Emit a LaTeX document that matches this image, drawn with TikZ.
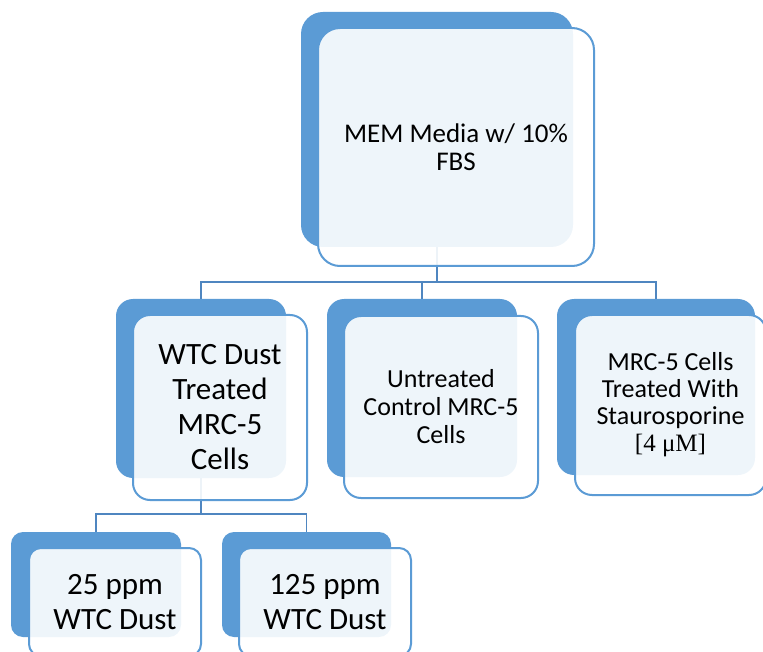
\documentclass[tikz,border=0pt]{standalone}
\usepackage{fontspec}
\setmainfont{Carlito}
\newfontfamily\serifm{Liberation Serif}
\usetikzlibrary{calc}
\definecolor{accent}{HTML}{5B9BD5}
\definecolor{conn}{HTML}{4F86C0}
\tikzset{
  backbox/.style={fill=accent, inner sep=0pt, draw=none},
  frontbox/.style={draw=accent, line width=2pt, fill=white, fill opacity=0.9, text opacity=1, inner sep=0pt, align=center, text=black},
  link/.style={draw=conn, line width=1.8pt},
}
\begin{document}
\begin{tikzpicture}[x=1pt,y=-1pt]
\useasboundingbox (0,0) rectangle (763,652);
\clip (0,0) rectangle (763,652);
% back boxes
\node[backbox, rounded corners=22pt, minimum width=272pt, minimum height=235pt] (topB) at (437,129.5) {};
\node[backbox, rounded corners=17pt, minimum width=170pt, minimum height=179pt] (wtcB) at (201,388.5) {};
\node[backbox, rounded corners=17pt, minimum width=190pt, minimum height=178pt] (untB) at (422,388) {};
\node[backbox, rounded corners=17pt, minimum width=198pt, minimum height=176pt] (stauB) at (656,387) {};
\node[backbox, rounded corners=12pt, minimum width=170pt, minimum height=105pt] (p25B) at (96,584.5) {};
\node[backbox, rounded corners=12pt, minimum width=169pt, minimum height=105pt] (p125B) at (306.5,584.5) {};
% connectors
\coordinate (j1) at ($(topB.south)+(0,35)$);
\coordinate (j2) at ($(wtcB.south)+(0,36)$);
\draw[link] (topB.south) -- (j1);
\draw[link] (wtcB.north) |- (j1) -| (stauB.north);
\draw[link] (j1) -| (untB.north);
\draw[link] (wtcB.south) -- (j2);
\draw[link] (p25B.north) |- (j2) -| (p125B.north);
% front boxes
\node[frontbox, rounded corners=22pt, minimum width=276pt, minimum height=238pt, font=\fontsize{27}{28.5}\selectfont] (top) at (456,147) {MEM Media w/ 10\%\\FBS};
\node[frontbox, rounded corners=17pt, minimum width=174pt, minimum height=185pt, font=\fontsize{31}{35}\selectfont] (wtc) at (220,407.5) {WTC Dust\\Treated\\MRC-5\\Cells};
\node[frontbox, rounded corners=17pt, minimum width=194pt, minimum height=182pt, font=\fontsize{26}{28}\selectfont] (unt) at (441,407) {Untreated\\Control MRC-5\\Cells};
\node[frontbox, rounded corners=17pt, minimum width=191pt, minimum height=180pt, font=\fontsize{26}{27}\selectfont] (stau) at (670.5,405) {MRC-5 Cells\\Treated With\\Staurosporine\\{\serifm\fontsize{25}{27}\selectfont [4 μM]}};
\node[frontbox, rounded corners=12pt, minimum width=172pt, minimum height=108pt, font=\fontsize{31}{35}\selectfont] (p25) at (115,602) {25 ppm\\WTC Dust};
\node[frontbox, rounded corners=12pt, minimum width=172pt, minimum height=108pt, font=\fontsize{31}{35}\selectfont] (p125) at (325,602) {125 ppm\\WTC Dust};
\end{tikzpicture}
\end{document}
